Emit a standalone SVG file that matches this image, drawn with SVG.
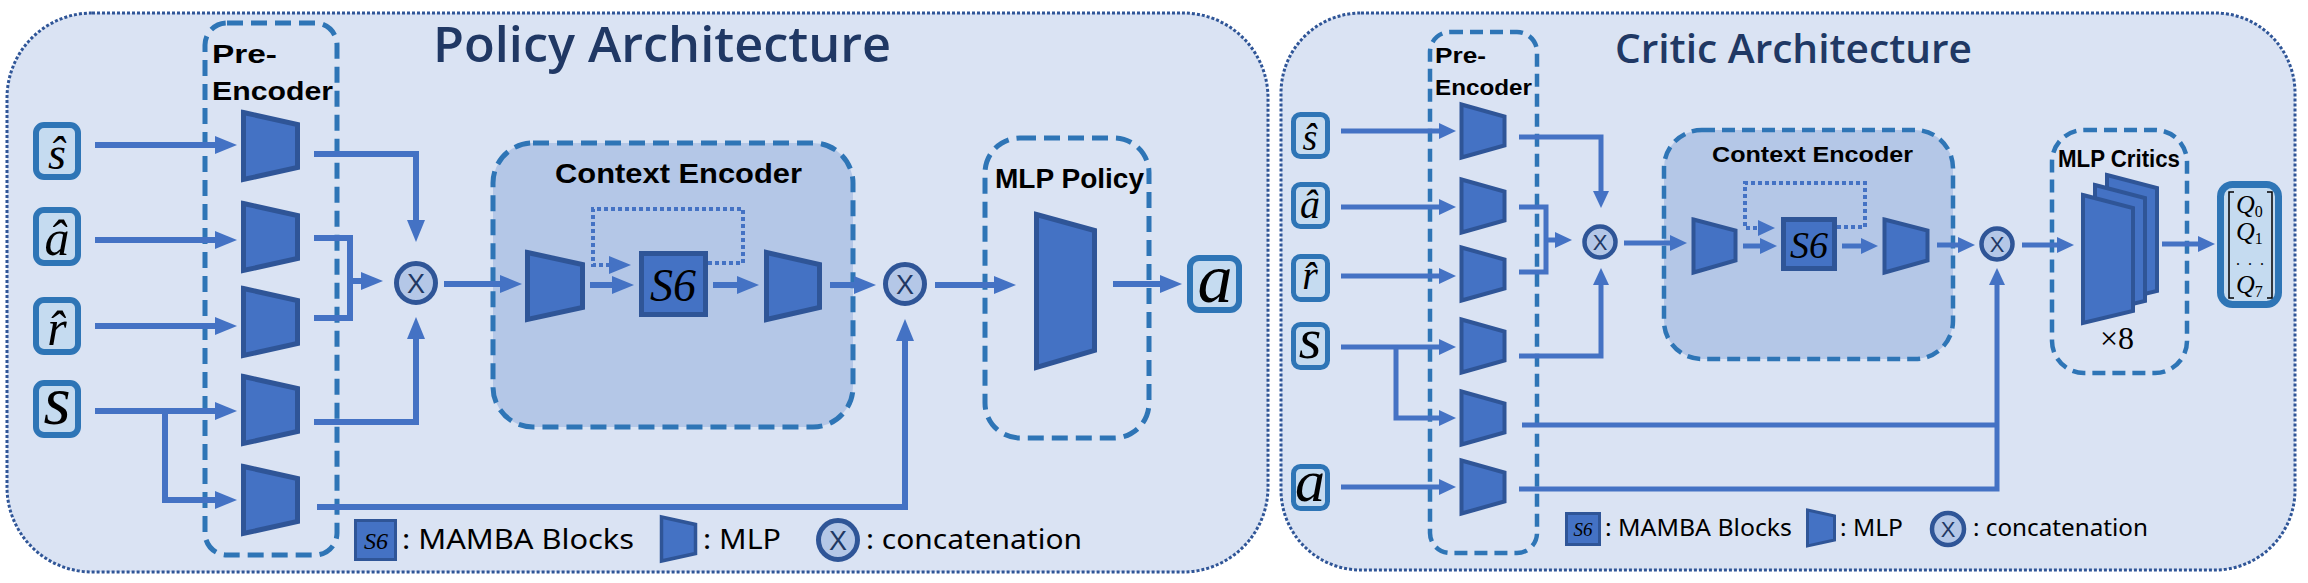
<svg xmlns="http://www.w3.org/2000/svg" width="2308" height="583" viewBox="0 0 2308 583">
<style>
.bg{fill:#ffffff}
.panel{fill:#dae3f3;stroke:#2f5597;stroke-width:3;stroke-dasharray:3 2}
.dash{fill:none;stroke:#2e75b6;stroke-width:5;stroke-dasharray:16 8}
.dashc{fill:none;stroke:#2e75b6;stroke-width:4.5;stroke-dasharray:13 7}
.ctx{fill:#b4c7e7}
.inbox{fill:#c5dbf0;stroke:#2e75b6;stroke-width:6}
.inboxc{fill:#c5dbf0;stroke:#2e75b6;stroke-width:5}
.mlp{fill:#4472c4;stroke:#2f5597;stroke-width:5;stroke-linejoin:miter}
.mlpc{fill:#4472c4;stroke:#2f5597;stroke-width:4;stroke-linejoin:miter}
.s6{fill:#4472c4;stroke:#2f5597;stroke-width:5}
.cat{fill:#b4c7e7;stroke:#2f5597;stroke-width:5}
.catc{fill:#b4c7e7;stroke:#2f5597;stroke-width:4.5}
.ln{fill:none;stroke:#4472c4;stroke-width:6}
.lnc{fill:none;stroke:#4472c4;stroke-width:5}
.dot{stroke-dasharray:4 3;stroke-width:4}
.math{font-family:"Liberation Serif","DejaVu Serif",serif;font-style:italic;fill:#000}
.up{font-family:"Liberation Serif","DejaVu Serif",serif;font-style:normal;fill:#000}
.title{font-family:"Open Sans","Liberation Sans",sans-serif;font-weight:600;fill:#203864}
.lab{font-family:"Liberation Sans","Open Sans",sans-serif;font-weight:bold;fill:#000}
.leg{font-family:"Noto Sans","Open Sans",sans-serif;fill:#000}
.x{font-family:"Liberation Sans",sans-serif;fill:#1f3864;text-anchor:middle}
</style>
<defs>
<marker id="ap" markerUnits="userSpaceOnUse" markerWidth="24" markerHeight="20" refX="4" refY="9" orient="auto"><path d="M0,0 L22,9 L0,18 Z" fill="#4472c4"/></marker>
<marker id="ac" markerUnits="userSpaceOnUse" markerWidth="20" markerHeight="18" refX="3" refY="8" orient="auto"><path d="M0,0 L17,8 L0,16 Z" fill="#4472c4"/></marker>
</defs>
<rect class="bg" x="0" y="0" width="2308" height="583"/>

<!-- ================= POLICY ================= -->
<g id="policy-panel">
<rect class="panel" x="7" y="13" width="1261" height="559" rx="85"/>
<text class="title" x="433" y="62" font-size="49" textLength="458" lengthAdjust="spacingAndGlyphs">Policy Architecture</text>
</g>
<g id="policy-pre-encoder">
<rect class="dash" x="205" y="23" width="132" height="532" rx="22"/>
<text class="lab" x="212" y="63" font-size="26" textLength="65" lengthAdjust="spacingAndGlyphs">Pre-</text>
<text class="lab" x="212" y="100" font-size="26" textLength="121" lengthAdjust="spacingAndGlyphs">Encoder</text>
</g>
<g id="policy-context-encoder">
<rect class="ctx" x="493" y="143" width="360" height="284" rx="40"/>
<rect class="dash" x="493" y="143" width="360" height="284" rx="40"/>
<text class="lab" x="555" y="183" font-size="27" textLength="247" lengthAdjust="spacingAndGlyphs">Context Encoder</text>
</g>
<g id="policy-mlp-policy">
<rect class="dash" x="985" y="138" width="164" height="300" rx="35"/>
<text class="lab" x="995" y="188" font-size="27" textLength="149" lengthAdjust="spacingAndGlyphs">MLP Policy</text>
</g>

<g id="policy-connectors">
<path class="ln" d="M95,145 H219" marker-end="url(#ap)"/>
<path class="ln" d="M95,240 H219" marker-end="url(#ap)"/>
<path class="ln" d="M95,326 H219" marker-end="url(#ap)"/>
<path class="ln" d="M95,411 H219" marker-end="url(#ap)"/>
<path class="ln" d="M165,411 V500 H219" marker-end="url(#ap)"/>
<path class="ln" d="M314,154 H416 V224" marker-end="url(#ap)"/>
<path class="ln" d="M314,238 H350 V318 H314"/>
<path class="ln" d="M350,281 H365" marker-end="url(#ap)"/>
<path class="ln" d="M314,422 H416 V335" marker-end="url(#ap)"/>
<path class="ln" d="M317,507 H905 V337" marker-end="url(#ap)"/>
<path class="ln" d="M444,284 H504" marker-end="url(#ap)"/>
<path class="ln" d="M590,285 H616" marker-end="url(#ap)"/>
<path class="ln dot" d="M708,263 H743 V209 H593 V265 H613" marker-end="url(#ap)"/>
<path class="ln" d="M713,285 H741" marker-end="url(#ap)"/>
<path class="ln" d="M830,285 H858" marker-end="url(#ap)"/>
<path class="ln" d="M935,285 H998" marker-end="url(#ap)"/>
<path class="ln" d="M1113,284 H1164" marker-end="url(#ap)"/>
</g>

<g id="p-in-shat">
<rect class="inbox" x="36" y="125" width="42" height="52" rx="8"/>
<text class="math" x="57" y="169" font-size="46" text-anchor="middle">ŝ</text>
</g>
<g id="p-in-ahat">
<rect class="inbox" x="36" y="210" width="42" height="53" rx="8"/>
<text class="math" x="57" y="255" font-size="50" text-anchor="middle">â</text>
</g>
<g id="p-in-rhat">
<rect class="inbox" x="36" y="300" width="42" height="52" rx="8"/>
<text class="math" x="57" y="345" font-size="50" text-anchor="middle">r̂</text>
</g>
<g id="p-in-s">
<rect class="inbox" x="36" y="383" width="42" height="52" rx="8"/>
<text class="math" x="57" y="424" font-size="70" text-anchor="middle">s</text>
</g>

<g id="p-mlp1"><polygon class="mlp" points="243.5,112.5 297.5,124.5 297.5,167.5 243.5,179.5"/></g>
<g id="p-mlp2"><polygon class="mlp" points="243.5,203.5 297.5,215.5 297.5,258.5 243.5,270.5"/></g>
<g id="p-mlp3"><polygon class="mlp" points="243.5,288.5 297.5,300.5 297.5,343.5 243.5,355.5"/></g>
<g id="p-mlp4"><polygon class="mlp" points="243.5,376.5 297.5,388.5 297.5,431.5 243.5,443.5"/></g>
<g id="p-mlp5"><polygon class="mlp" points="243.5,466.5 297.5,478.5 297.5,521.5 243.5,533.5"/></g>

<g id="p-concat1"><circle class="cat" cx="416" cy="283" r="19.5"/><text class="x" x="416" y="293" font-size="27">X</text></g>
<g id="p-ctx-mlp1"><polygon class="mlp" points="527.5,252.5 582.5,264.5 582.5,307.5 527.5,319.5"/></g>
<g id="p-s6"><rect class="s6" x="641.5" y="253.5" width="64" height="61"/><text class="math" x="673" y="301" font-size="46" text-anchor="middle">S6</text></g>
<g id="p-ctx-mlp2"><polygon class="mlp" points="766.5,252.5 819.5,264.5 819.5,307.5 766.5,319.5"/></g>
<g id="p-concat2"><circle class="cat" cx="905" cy="284" r="19.5"/><text class="x" x="905" y="294" font-size="27">X</text></g>
<g id="p-policy-mlp"><polygon class="mlp" points="1036.5,214.5 1094.5,230.5 1094.5,350.5 1036.5,367.5"/></g>
<g id="p-out-a">
<rect class="inbox" x="1190" y="258" width="49" height="52" rx="9"/>
<text class="math" x="1215" y="302" font-size="70" text-anchor="middle">a</text>
</g>

<g id="p-legend">
<rect x="355.5" y="520.5" width="40" height="39" fill="#4472c4" stroke="#2f5597" stroke-width="3"/>
<text class="math" x="376" y="549" font-size="24" text-anchor="middle" fill="#1f3864">S6</text>
<text class="leg" x="402" y="549" font-size="28" textLength="232" lengthAdjust="spacingAndGlyphs">: MAMBA Blocks</text>
<polygon points="661.5,517 695.5,524.5 695.5,553.5 661.5,561" fill="#4472c4" stroke="#2f5597" stroke-width="3.5"/>
<text class="leg" x="703" y="549" font-size="28" textLength="78" lengthAdjust="spacingAndGlyphs">: MLP</text>
<circle class="cat" cx="838" cy="540" r="19.5"/><text class="x" x="838" y="550" font-size="27">X</text>
<text class="leg" x="866" y="549" font-size="28" textLength="216" lengthAdjust="spacingAndGlyphs">: concatenation</text>
</g>

<!-- ================= CRITIC ================= -->
<g id="critic-panel">
<rect class="panel" x="1281" y="13" width="1014" height="557" rx="80"/>
<text class="title" x="1615" y="63" font-size="39" font-weight="700" textLength="357" lengthAdjust="spacingAndGlyphs">Critic Architecture</text>
</g>
<g id="critic-pre-encoder">
<rect class="dashc" x="1430" y="32" width="107" height="521" rx="20"/>
<text class="lab" x="1435" y="63" font-size="22" textLength="51" lengthAdjust="spacingAndGlyphs">Pre-</text>
<text class="lab" x="1435" y="95" font-size="22" textLength="97" lengthAdjust="spacingAndGlyphs">Encoder</text>
</g>
<g id="critic-context-encoder">
<rect class="ctx" x="1664" y="130" width="289" height="229" rx="38"/>
<rect class="dashc" x="1664" y="130" width="289" height="229" rx="38"/>
<text class="lab" x="1712" y="162" font-size="22" textLength="201" lengthAdjust="spacingAndGlyphs">Context Encoder</text>
</g>
<g id="critic-mlp-critics">
<rect class="dashc" x="2052" y="130" width="135" height="243" rx="32"/>
<text class="lab" x="2058" y="167" font-size="23" textLength="122" lengthAdjust="spacingAndGlyphs">MLP Critics</text>
</g>

<g id="critic-connectors">
<path class="lnc" d="M1341,131 H1442" marker-end="url(#ac)"/>
<path class="lnc" d="M1341,207 H1442" marker-end="url(#ac)"/>
<path class="lnc" d="M1341,276 H1442" marker-end="url(#ac)"/>
<path class="lnc" d="M1341,347 H1442" marker-end="url(#ac)"/>
<path class="lnc" d="M1396,347 V418 H1442" marker-end="url(#ac)"/>
<path class="lnc" d="M1341,487 H1442" marker-end="url(#ac)"/>
<path class="lnc" d="M1519,137 H1601 V194" marker-end="url(#ac)"/>
<path class="lnc" d="M1519,207 H1546 V272 H1519"/>
<path class="lnc" d="M1546,240 H1558" marker-end="url(#ac)"/>
<path class="lnc" d="M1519,356 H1601 V282" marker-end="url(#ac)"/>
<path class="lnc" d="M1522,425 H1997"/>
<path class="lnc" d="M1519,489 H1997 V282" marker-end="url(#ac)"/>
<path class="lnc" d="M1624,243 H1673" marker-end="url(#ac)"/>
<path class="lnc" d="M1743,246 H1763" marker-end="url(#ac)"/>
<path class="lnc dot" d="M1837,227 H1865 V183 H1745 V228 H1761" marker-end="url(#ac)"/>
<path class="lnc" d="M1842,246 H1864" marker-end="url(#ac)"/>
<path class="lnc" d="M1937,245 H1961" marker-end="url(#ac)"/>
<path class="lnc" d="M2022,245 H2060" marker-end="url(#ac)"/>
<path class="lnc" d="M2162,244 H2201" marker-end="url(#ac)"/>
</g>

<g id="c-in-shat">
<rect class="inboxc" x="1293.5" y="114.5" width="34" height="42" rx="7"/>
<text class="math" x="1310" y="150" font-size="38" text-anchor="middle">ŝ</text>
</g>
<g id="c-in-ahat">
<rect class="inboxc" x="1293.5" y="184.5" width="34" height="42" rx="7"/>
<text class="math" x="1310" y="218" font-size="40" text-anchor="middle">â</text>
</g>
<g id="c-in-rhat">
<rect class="inboxc" x="1293.5" y="256.5" width="34" height="43" rx="7"/>
<text class="math" x="1310" y="289" font-size="40" text-anchor="middle">r̂</text>
</g>
<g id="c-in-s">
<rect class="inboxc" x="1293.5" y="324.5" width="34" height="43" rx="7"/>
<text class="math" x="1310" y="358" font-size="58" text-anchor="middle">s</text>
</g>
<g id="c-in-a">
<rect class="inboxc" x="1293.5" y="466.5" width="34" height="42" rx="7"/>
<text class="math" x="1310" y="501" font-size="60" text-anchor="middle">a</text>
</g>

<g id="c-mlp1"><polygon class="mlpc" points="1461.5,104.5 1504.5,116.5 1504.5,145.5 1461.5,157.5"/></g>
<g id="c-mlp2"><polygon class="mlpc" points="1461.5,179.5 1504.5,191.5 1504.5,220.5 1461.5,232.5"/></g>
<g id="c-mlp3"><polygon class="mlpc" points="1461.5,247.5 1504.5,259.5 1504.5,288.5 1461.5,300.5"/></g>
<g id="c-mlp4"><polygon class="mlpc" points="1461.5,319.5 1504.5,331.5 1504.5,360.5 1461.5,372.5"/></g>
<g id="c-mlp5"><polygon class="mlpc" points="1461.5,391.5 1504.5,403.5 1504.5,432.5 1461.5,444.5"/></g>
<g id="c-mlp6"><polygon class="mlpc" points="1461.5,460.5 1504.5,472.5 1504.5,501.5 1461.5,513.5"/></g>

<g id="c-concat1"><circle class="catc" cx="1600" cy="242" r="15.5"/><text class="x" x="1600" y="250" font-size="22">X</text></g>
<g id="c-ctx-mlp1"><polygon class="mlpc" points="1693.5,219.5 1735.5,230.5 1735.5,260.5 1693.5,272.5"/></g>
<g id="c-s6"><rect class="s6" x="1783.5" y="219.5" width="51" height="49"/><text class="math" x="1809" y="258" font-size="38" text-anchor="middle">S6</text></g>
<g id="c-ctx-mlp2"><polygon class="mlpc" points="1884.5,219.5 1927.5,230.5 1927.5,260.5 1884.5,272.5"/></g>
<g id="c-concat2"><circle class="catc" cx="1997" cy="244" r="15.5"/><text class="x" x="1997" y="252" font-size="22">X</text></g>
<g id="c-critics">
<polygon class="mlpc" points="2107,175 2157,188 2157,291 2107,303"/>
<polygon class="mlpc" points="2095,185 2145,198 2145,301 2095,313"/>
<polygon class="mlpc" points="2083,195 2133,208 2133,311 2083,323"/>
<text class="up" x="2117" y="349" font-size="32" text-anchor="middle">×8</text>
</g>
<g id="c-out-q">
<rect x="2220.5" y="184.5" width="58" height="120" rx="12" fill="#c5dbf0" stroke="#2e75b6" stroke-width="7"/>
<path d="M2234,192 H2229 V298 H2234 M2267,192 H2272 V298 H2267" fill="none" stroke="#000" stroke-width="1.5"/>
<text class="math" x="2236" y="213" font-size="26">Q<tspan class="up" font-size="16" dy="4">0</tspan></text>
<text class="math" x="2236" y="240" font-size="26">Q<tspan class="up" font-size="16" dy="4">1</tspan></text>
<text class="up" x="2251" y="265" font-size="16" letter-spacing="2" text-anchor="middle">. . .</text>
<text class="math" x="2236" y="293" font-size="26">Q<tspan class="up" font-size="16" dy="4">7</tspan></text>
</g>

<g id="c-legend">
<rect x="1566.5" y="513.5" width="33" height="31" fill="#4472c4" stroke="#2f5597" stroke-width="3"/>
<text class="math" x="1583" y="536" font-size="19" text-anchor="middle" fill="#1f3864">S6</text>
<text class="leg" x="1605" y="536" font-size="23" textLength="187" lengthAdjust="spacingAndGlyphs">: MAMBA Blocks</text>
<polygon points="1807.5,510 1834.5,516 1834.5,540 1807.5,546" fill="#4472c4" stroke="#2f5597" stroke-width="3"/>
<text class="leg" x="1840" y="536" font-size="23" textLength="63" lengthAdjust="spacingAndGlyphs">: MLP</text>
<circle class="catc" cx="1948" cy="529" r="16"/><text class="x" x="1948" y="537" font-size="22">X</text>
<text class="leg" x="1973" y="536" font-size="23" textLength="175" lengthAdjust="spacingAndGlyphs">: concatenation</text>
</g>
</svg>
